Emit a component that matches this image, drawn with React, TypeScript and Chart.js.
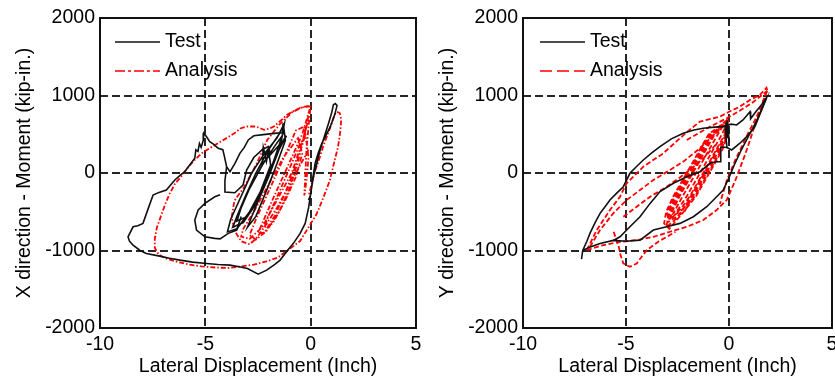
import React, { useEffect, useRef } from "react";
import { Chart, registerables } from "chart.js";

Chart.register(...registerables);

type P = [number, number];

const xTicks = [-10, -5, 0, 5];
const yTicks = [-2000, -1000, 0, 1000, 2000];
const xTitle = "Lateral Displacement (Inch)";
const leftYTitle = "X direction - Moment (kip-in.)";
const rightYTitle = "Y direction - Moment (kip-in.)";
const seriesNames = ["Test", "Analysis"];

// ---------- Left panel (X direction) : Test ----------
const leftTestBand: P[] = [
  [-1.25, 640], [-1.6, 450], [-2.2, 250], [-2.8, 0], [-3.3, -300], [-3.8, -600], [-3.95, -760],
  [-3.5, -720], [-2.9, -500], [-2.3, -200], [-1.8, 100], [-1.4, 400], [-1.25, 640],
  [-1.5, 500], [-2.0, 300], [-2.6, 0], [-3.1, -300], [-3.5, -560], [-3.7, -700], [-3.2, -640],
  [-2.6, -400], [-2.1, -100], [-1.7, 200], [-1.35, 480],
  [-1.7, 350], [-2.3, 100], [-2.9, -200], [-3.3, -450], [-3.5, -620], [-3.0, -560], [-2.4, -250],
  [-1.9, 100], [-2.0, 300], [-2.1, 150], [-2.25, 330], [-2.3, 120], [-1.6, 330], [-1.3, 420],
  [-1.15, 480], [-1.5, 300], [-2.0, -50], [-2.6, -430], [-3.0, -700], [-2.6, -560], [-2.1, -230],
  [-1.6, 120], [-1.2, 420], [-1.3, 640],
];
const leftTestOuter: P[] = [
  [-1.3, 640], [-1.35, 520], [-1.6, 515], [-2.25, 495], [-2.7, 480], [-2.96, 426], [-3.15, 330],
  [-3.36, 254], [-3.6, 120], [-3.83, 17], [-3.99, 81], [-4.1, 220], [-4.17, 300], [-4.39, 319],
  [-4.6, 370], [-4.79, 405], [-4.95, 470], [-5.07, 513], [-5.1, 420], [-5.2, 330], [-5.28, 380],
  [-5.35, 280], [-5.45, 300], [-5.5, 190], [-5.75, 100], [-5.98, 17], [-6.2, -30], [-6.45, -90],
  [-6.85, -220], [-7.2, -250], [-7.48, -284], [-7.7, -450], [-7.96, -650], [-8.2, -680],
  [-8.43, -694], [-8.67, -823], [-8.6, -880], [-8.43, -930], [-8.1, -1000], [-7.8, -1038],
  [-7.17, -1073], [-6.7, -1100], [-6.21, -1124], [-5.6, -1150], [-4.94, -1167], [-4.4, -1180],
  [-3.83, -1189], [-3.4, -1210], [-3.0, -1232], [-2.49, -1305], [-2.09, -1253], [-1.7, -1180],
  [-1.45, -1124], [-1.1, -1000], [-0.82, -908], [-0.5, -780], [-0.26, -650], [-0.1, -450],
  [-0.02, -306], [0.13, -48], [0.3, 130], [0.45, 297], [0.65, 470], [0.85, 642], [1.0, 780],
  [1.08, 880], [1.17, 895], [1.25, 870], [1.15, 760], [0.93, 598], [0.7, 470], [0.53, 383],
  [0.35, 250], [0.21, 125], [0.08, -100], [0.0, -280], [-0.1, -350],
];
const leftTestLoop: P[] = [
  [-3.3, -560], [-3.51, -736], [-3.91, -779], [-4.3, -850], [-4.55, -844], [-5.02, -823],
  [-5.42, -736], [-5.5, -607], [-5.34, -478], [-5.02, -392], [-4.55, -306], [-4.3, -280],
];
const leftTestStem: P[] = [
  [-3.99, 81], [-4.07, -100], [-4.07, -245], [-3.6, -255], [-3.21, -155], [-3.04, 39],
  [-2.7, 200], [-2.3, 300], [-2.02, 340], [-1.9, 250],
];

// ---------- Left panel : Analysis ----------
const leftAnaOuter: P[] = [
  [0.0, 860], [-0.3, 850], [-0.5, 840], [-0.8, 800], [-1.12, 752], [-1.4, 680], [-1.75, 600],
  [-2.0, 570], [-2.22, 557], [-2.5, 590], [-2.69, 600], [-3.0, 600], [-3.31, 578], [-3.62, 513],
  [-4.0, 450], [-4.4, 383], [-4.8, 320], [-5.19, 252], [-5.5, 170], [-5.81, 78], [-6.1, -30],
  [-6.44, -139], [-6.7, -270], [-6.9, -400], [-7.1, -550], [-7.3, -704], [-7.4, -850],
  [-7.4, -965], [-7.22, -1052], [-6.9, -1100], [-6.44, -1139], [-5.8, -1180], [-5.19, -1204],
  [-4.5, -1220], [-3.94, -1226], [-3.3, -1205], [-2.69, -1183], [-2.1, -1140], [-1.59, -1096],
  [-1.0, -980], [-0.5, -878], [-0.1, -700], [0.28, -530], [0.6, -320], [0.91, -96], [1.1, 120],
  [1.3, 339], [1.4, 520], [1.45, 687], [1.38, 774], [1.25, 790], [1.14, 752], [1.0, 640],
  [0.83, 513], [0.6, 350], [0.44, 209], [0.2, 20], [0.05, -139], [-0.1, -300],
];
const leftAnaInner: P[] = [
  [-0.1, 300], [-0.5, 100], [-1.0, -150], [-1.6, -450], [-2.2, -700], [-2.6, -850], [-2.9, -920],
  [-3.3, -880], [-3.6, -750], [-3.75, -574], [-3.62, -357], [-3.16, -183], [-2.6, 100],
  [-2.06, 426], [-1.5, 620], [-0.9, 780], [-0.4, 850], [0.0, 870], [-0.1, 600], [-0.2, 300],
  [-0.25, 0], [-0.3, -290], [-0.2, -100], [-0.1, 200], [-0.3, 600], [-0.7, 550], [-1.1, 300],
  [-1.6, 0], [-2.1, -300], [-2.6, -600], [-2.9, -800], [-2.6, -860], [-2.1, -750], [-1.5, -500],
  [-1.0, -200], [-0.6, 150], [-0.2, 600], [-0.05, 820], [-0.4, 500], [-0.9, 200], [-1.4, -100],
  [-1.9, -400], [-2.3, -650], [-2.5, -780], [-2.2, -770], [-1.7, -550], [-1.2, -250], [-0.7, 100],
  [-0.3, 450], [-0.5, 380], [-1.0, 60], [-1.5, -250], [-2.0, -550], [-2.2, -700], [-1.8, -650],
  [-1.2, -350], [-0.7, -50], [-0.4, 250], [-0.6, 450], [-1.3, 200], [-2.0, -150], [-2.7, -500],
  [-3.2, -720], [-3.3, -820], [-2.9, -850], [-2.3, -700], [-1.6, -350], [-0.9, 0], [-0.4, 400],
  [-0.1, 700],
];

// ---------- Right panel (Y direction) : Test ----------
const rightTestOuter: P[] = [
  [-7.16, -1110], [-7.1, -1000], [-6.9, -880], [-6.75, -779], [-6.5, -640], [-6.26, -521],
  [-6.0, -430], [-5.78, -349], [-5.45, -260], [-5.13, -177], [-4.81, -4], [-4.5, 80], [-4.16, 168],
  [-3.75, 260], [-3.35, 340], [-2.8, 440], [-2.22, 513], [-1.7, 555], [-1.25, 577], [-0.7, 592],
  [-0.28, 598], [0.1, 630], [0.37, 620], [0.68, 685], [1.02, 792], [1.05, 700], [1.3, 790],
  [1.58, 880], [1.82, 970], [1.6, 830], [1.35, 680], [1.0, 500], [0.6, 300], [0.25, 100],
  [0.0, -60], [-0.28, -220], [-0.6, -306], [-1.08, -435], [-1.73, -564], [-2.38, -650],
  [-3.03, -694], [-3.67, -736], [-4.32, -866], [-5.0, -880], [-5.62, -870], [-6.26, -909],
  [-6.8, -960], [-7.1, -1000],
];
const rightTestInner: P[] = [
  [-5.62, -870], [-5.29, -823], [-4.81, -694], [-4.32, -564], [-3.83, -392], [-3.35, -240],
  [-2.7, -133], [-2.05, -48], [-1.41, 17], [-0.92, 125], [-0.6, 146], [-0.4, 146], [-0.4, 335],
  [-0.1, 330], [0.13, 297], [0.53, 384], [0.86, 469], [1.26, 598], [1.5, 760], [1.82, 970],
];
const rightTestBlob: P[] = [
  [-0.1, 330], [-0.2, 620], [-0.05, 450], [-0.15, 650], [0.0, 500], [-0.1, 680], [0.02, 400],
  [-0.12, 560],
];

// ---------- Right panel : Analysis ----------
const rightAnaBand: P[] = [
  [-0.1, 680], [-0.99, 500], [-1.42, 300], [-1.84, 100], [-2.27, -100], [-2.7, -300], [-3.05, -500],
  [-3.15, -650], [-2.9, -720], [-2.2, -500], [-1.6, -300], [-1.17, -100], [-0.74, 100], [-0.32, 300],
  [-0.05, 500], [-0.1, 680],
  [-0.84, 500], [-1.27, 300], [-1.69, 100], [-2.12, -100], [-2.55, -300], [-2.9, -500], [-3.0, -640],
  [-2.17, -500], [-1.75, -300], [-1.32, -100], [-0.89, 100], [-0.47, 300], [-0.1, 500], [-0.05, 660],
  [-0.69, 500], [-1.12, 300], [-1.54, 100], [-1.97, -100], [-2.4, -300], [-2.8, -520], [-2.85, -600],
  [-2.3, -450], [-1.9, -300], [-1.47, -100], [-1.04, 100], [-0.62, 300], [-0.2, 500], [-0.12, 680],
  [-0.54, 500], [-0.97, 300], [-1.39, 100], [-1.82, -100], [-2.25, -300], [-2.7, -520], [-2.5, -480],
  [-2.05, -300], [-1.62, -100], [-1.19, 100], [-0.77, 300], [-0.34, 500], [-0.1, 640],
  [-0.94, 500], [-1.37, 300], [-1.79, 100], [-2.22, -100], [-2.65, -300], [-3.0, -520], [-2.95, -600],
  [-2.3, -480], [-1.65, -300], [-1.22, -100], [-0.79, 100], [-0.37, 300], [-0.1, 480], [-0.15, 650],
  [-0.74, 500], [-1.17, 300], [-1.59, 100], [-2.02, -100], [-2.45, -300], [-2.95, -580], [-3.05, -700],
  [-2.6, -600], [-2.1, -420], [-1.85, -300], [-1.42, -100], [-0.99, 100], [-0.57, 300], [-0.14, 500],
  [-0.1, 700],
];
const rightAnaUpperA: P[] = [
  [-6.9, -995], [-6.42, -736], [-5.78, -478], [-5.29, -306], [-4.97, -133], [-4.16, 81],
  [-3.19, 254], [-2.5, 420], [-1.9, 560], [-1.41, 663], [-0.44, 727], [0.0, 790], [0.53, 857],
  [1.0, 940], [1.5, 1008], [1.82, 1100], [1.9, 1035],
];
const rightAnaUpperB: P[] = [
  [-2.05, 426], [-0.92, 598], [-0.11, 707], [0.5, 800], [1.2, 920], [1.85, 1060],
];
const rightAnaMid1: P[] = [
  [-6.75, -952], [-6.26, -736], [-5.62, -521], [-4.97, -349], [-4.32, -220], [-3.67, -90],
  [-2.86, 39], [-2.2, 150], [-1.5, 300], [-0.9, 450], [-0.3, 620],
];
const rightAnaMid2: P[] = [
  [-5.13, -564], [-4.48, -435], [-3.83, -306], [-3.02, -177], [-2.4, -60], [-1.8, 60],
  [-1.2, 200], [-0.6, 380],
];
const rightAnaLower: P[] = [
  [-6.9, -995], [-6.1, -930], [-5.29, -888], [-4.48, -866], [-3.67, -823], [-2.86, -758],
  [-2.05, -694], [-1.25, -607], [-0.6, -478], [-0.11, -349], [0.3, -100], [0.8, 250],
  [1.3, 650], [1.82, 1050],
];
const rightAnaDip: P[] = [
  [-5.6, -760], [-5.35, -950], [-5.29, -1037], [-5.13, -1167], [-4.81, -1210], [-4.48, -1167],
  [-4.24, -1081], [-3.99, -995], [-3.4, -880], [-2.6, -760],
];
const rightAnaReturn: P[] = [
  [1.85, 1060], [1.5, 820], [1.2, 650], [0.94, 520], [0.6, 330], [0.29, 160], [0.05, 0],
  [-0.11, -96], [-0.35, -313], [-0.44, -400],
];

const FONT = "'Liberation Sans', Arial, Helvetica, sans-serif";
const FS = 19.5;
const BLACK = "#111111";
const RED = "#ff0000";

const toXY = (pts: P[]) => pts.map(([x, y]) => ({ x, y }));

function line(label: string, pts: P[], color: string, dash: number[], width: number) {
  return {
    label,
    data: toXY(pts),
    showLine: true,
    borderColor: color,
    backgroundColor: color,
    borderWidth: width,
    borderDash: dash,
    pointRadius: 0,
    pointHoverRadius: 0,
    fill: false,
    tension: 0,
  };
}

const framePlugin = {
  id: "frame",
  afterDatasetsDraw(chart: any, _args: any, opts: any) {
    const { ctx, chartArea: a } = chart;
    ctx.save();
    ctx.setLineDash([]);
    ctx.strokeStyle = "#111";
    ctx.lineWidth = 2;
    ctx.strokeRect(a.left, a.top, a.right - a.left, a.bottom - a.top);
    (opts.items || []).forEach((it: any, i: number) => {
      const y = a.top + opts.y0 + i * opts.dy;
      const x = a.left + opts.x0;
      ctx.beginPath();
      ctx.setLineDash(it.dash);
      ctx.strokeStyle = it.color;
      ctx.lineWidth = 1.7;
      ctx.moveTo(x, y);
      ctx.lineTo(x + opts.len, y);
      ctx.stroke();
      ctx.setLineDash([]);
      ctx.fillStyle = "#000";
      ctx.font = `${FS}px ${FONT}`;
      ctx.textBaseline = "middle";
      ctx.textAlign = "left";
      ctx.fillText(it.label, x + opts.len + 5, y);
    });
    ctx.restore();
  },
};

function makeConfig(datasets: any[], yTitle: string, yAxisWidth: number, padRight: number, titlePad: number, legendItems: any[], legendX: number) {
  const gridColor = (edge: number[]) => (c: any) =>
    c.tick && edge.includes(c.tick.value) ? "rgba(0,0,0,0)" : "#262626";
  return {
    type: "scatter",
    data: { datasets },
    plugins: [framePlugin],
    options: {
      responsive: false,
      animation: false,
      devicePixelRatio: 1,
      events: [],
      layout: { padding: { left: 0, top: 18, right: padRight, bottom: 0 } },
      plugins: {
        legend: { display: false },
        tooltip: { enabled: false },
        frame: { items: legendItems, x0: legendX, len: 45, y0: 24, dy: 29 },
      },
      scales: {
        x: {
          type: "linear",
          min: -10,
          max: 5,
          afterBuildTicks: (axis: any) => {
            axis.ticks = xTicks.map((v) => ({ value: v }));
          },
          afterFit: (axis: any) => {
            axis.height = 51;
            axis.paddingLeft = 0;
            axis.paddingRight = 0;
          },
          grid: { color: gridColor([-10, 5]), lineWidth: 2, drawTicks: false },
          border: { display: false, dash: [8, 4] },
          ticks: {
            color: "#000",
            font: { family: FONT, size: FS },
            padding: 5,
            maxRotation: 0,
            autoSkip: false,
            callback: (v: any) => String(v),
          },
          title: {
            display: true,
            text: xTitle,
            color: "#000",
            font: { family: FONT, size: FS },
            padding: { top: 0, bottom: 1 },
          },
        },
        y: {
          type: "linear",
          min: -2000,
          max: 2000,
          afterBuildTicks: (axis: any) => {
            axis.ticks = yTicks.map((v) => ({ value: v }));
          },
          afterFit: (axis: any) => {
            axis.width = yAxisWidth;
            axis.paddingTop = 0;
            axis.paddingBottom = 0;
          },
          grid: { color: gridColor([-2000, 2000]), lineWidth: 2, drawTicks: false },
          border: { display: false, dash: [8, 4] },
          ticks: {
            color: "#000",
            font: { family: FONT, size: FS },
            padding: 5,
            autoSkip: false,
            callback: (v: any) => String(v),
          },
          title: {
            display: true,
            text: yTitle,
            color: "#000",
            font: { family: FONT, size: FS },
            padding: { top: titlePad, bottom: 0 },
          },
        },
      },
    },
  };
}

export default function App() {
  const leftRef = useRef<HTMLCanvasElement | null>(null);
  const rightRef = useRef<HTMLCanvasElement | null>(null);

  useEffect(() => {
    const leftDash = [5, 2, 1.5, 2];
    const rightDash = [5, 2.5];
    const bw = 1.6;
    const rw = 1.8;
    const leftSets = [
      line(seriesNames[0], leftTestBand, BLACK, [], bw),
      line(seriesNames[0], leftTestOuter, BLACK, [], bw),
      line(seriesNames[0], leftTestLoop, BLACK, [], bw),
      line(seriesNames[0], leftTestStem, BLACK, [], bw),
      line(seriesNames[1], leftAnaOuter, RED, leftDash, rw),
      line(seriesNames[1], leftAnaInner, RED, leftDash, rw),
    ];
    const rightSets = [
      line(seriesNames[0], rightTestOuter, BLACK, [], bw),
      line(seriesNames[0], rightTestInner, BLACK, [], bw),
      line(seriesNames[0], rightTestBlob, BLACK, [], bw),
      line(seriesNames[1], rightAnaBand, RED, rightDash, rw),
      line(seriesNames[1], rightAnaUpperA, RED, rightDash, rw),
      line(seriesNames[1], rightAnaUpperB, RED, rightDash, rw),
      line(seriesNames[1], rightAnaMid1, RED, rightDash, rw),
      line(seriesNames[1], rightAnaMid2, RED, rightDash, rw),
      line(seriesNames[1], rightAnaLower, RED, rightDash, rw),
      line(seriesNames[1], rightAnaDip, RED, rightDash, rw),
      line(seriesNames[1], rightAnaReturn, RED, rightDash, rw),
    ];
    const leftLegend = [
      { label: seriesNames[0], color: BLACK, dash: [] },
      { label: seriesNames[1], color: RED, dash: [10, 3, 3, 3] },
    ];
    const rightLegend = [
      { label: seriesNames[0], color: BLACK, dash: [] },
      { label: seriesNames[1], color: RED, dash: [12, 5] },
    ];
    const c1 = new Chart(
      leftRef.current as HTMLCanvasElement,
      makeConfig(leftSets, leftYTitle, 100, 14, 13, leftLegend, 15) as any
    );
    const c2 = new Chart(
      rightRef.current as HTMLCanvasElement,
      makeConfig(rightSets, rightYTitle, 106, 3, 19, rightLegend, 17) as any
    );
    return () => {
      c1.destroy();
      c2.destroy();
    };
  }, []);

  return (
    <div style={{ position: "absolute", left: 0, top: 0, width: 835, height: 379, background: "#fff", overflow: "hidden" }}>
      <canvas ref={leftRef} width={430} height={379} style={{ position: "absolute", left: 0, top: 0, width: 430, height: 379 }} />
      <canvas ref={rightRef} width={418} height={379} style={{ position: "absolute", left: 417, top: 0, width: 418, height: 379 }} />
    </div>
  );
}
